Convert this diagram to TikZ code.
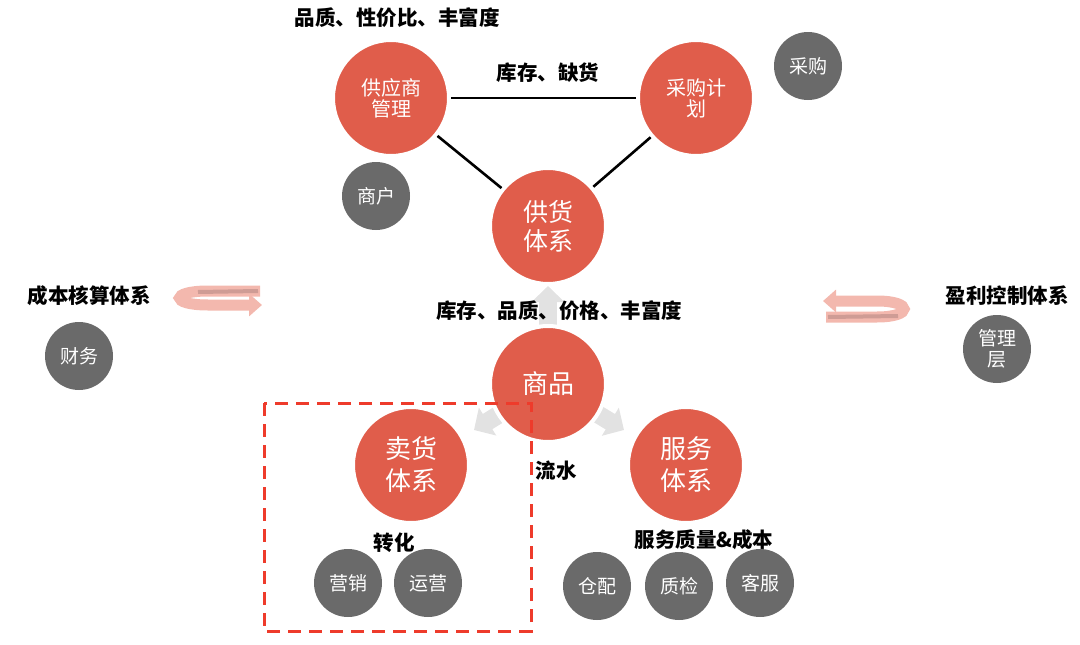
\documentclass[tikz,border=0pt]{standalone}
\usepackage{fontspec}
\newfontfamily\cjk{Noto Sans CJK SC}
\usepackage{tikz}
\usetikzlibrary{arrows.meta,backgrounds}
\definecolor{hong}{HTML}{E05D4B}
\definecolor{huise}{HTML}{6A6A6A}
\definecolor{qianhui}{HTML}{E2E2E2}
\definecolor{fenhong}{HTML}{F3B8AE}
\definecolor{shenfen}{HTML}{CF9C95}
\definecolor{kuanghong}{HTML}{EE3B2B}

\begin{document}
\begin{tikzpicture}[x=1pt,y=-1pt,
  bigc/.style={circle,fill=hong,draw=white,line width=4pt,minimum size=116pt,inner sep=0pt,text=white,align=center},
  smallc/.style={circle,fill=huise,minimum size=68pt,inner sep=0pt,text=white,align=center,font=\cjk\fontsize{19}{21}\selectfont},
  lbl/.style={font=\cjk\bfseries\fontsize{20.5}{23}\selectfont,inner sep=0pt},
  link/.style={line width=2.6pt,black},
  flow/.style={line width=18pt,draw=qianhui,-{Triangle[length=16pt,width=32pt]}},
  loopband/.style={line width=11pt,draw=fenhong},
  loopback/.style={line width=4pt,draw=shenfen}]
\useasboundingbox (0,0) rectangle (1080,645);

% supply side
\node[bigc,font=\cjk\fontsize{20}{21}\selectfont] (gys) at (391,98) {供应商\\管理};
\node[bigc,font=\cjk\fontsize{20}{21}\selectfont] (cgjh) at (696,98) {采购计\\划};
\node[bigc,font=\cjk\fontsize{25}{29}\selectfont] (ghtx) at (548,226) {供货\\体系};
\draw[link] (gys) -- (cgjh);
\draw[link] (gys) -- (ghtx);
\draw[link] (cgjh) -- (ghtx);
\node[lbl] (l1) at (397,18) {品质、性价比、丰富度};
\node[lbl] (l2) at (548,73) {库存、缺货};
\node[smallc] (cg) at (808,66) {采购};
\node[smallc] (sh) at (376,196) {商户};

% goods and the two systems below
\node[bigc,font=\cjk\fontsize{26}{28}\selectfont] (sp) at (548,384) {商品};
\node[bigc,font=\cjk\fontsize{26}{32}\selectfont] (mhtx) at (411,465) {卖货\\体系};
\node[bigc,font=\cjk\fontsize{26}{32}\selectfont] (fwtx) at (686,465) {服务\\体系};
\coordinate (upTip) at (548,286);
\coordinate (leftTip) at (474,430);
\coordinate (rightTip) at (624,430);
\begin{scope}[on background layer]
  \draw[flow] (sp.center) -- (upTip);
  \draw[flow] (sp.center) -- (leftTip);
  \draw[flow] (sp.center) -- (rightTip);
\end{scope}
\node[lbl] (l3) at (559,311) {库存、品质、价格、丰富度};
\node[lbl] (l4) at (556,471) {流水};
\node[lbl] (l5) at (394,543) {转化};
\node[lbl] (l6) at (704,540) {服务质量\&成本};
\node[smallc] (yx) at (348,583) {营销};
\node[smallc] (yy) at (428,583) {运营};
\node[smallc] (cp) at (597,586) {仓配};
\node[smallc] (zj) at (679,586) {质检};
\node[smallc] (kf) at (760,583) {客服};
\coordinate (boxA) at (264,403);
\coordinate (boxB) at (531,631);
\draw[kuanghong,line width=3pt,dash pattern=on 13pt off 8pt] (boxA) rectangle (boxB);

% left and right
\node[lbl] (l7) at (89,296) {成本核算体系};
\node[smallc] (cw) at (79,356) {财务};
\draw[loopband,-{Triangle[length=13pt,width=22pt]}] (260,291) -- (208,291) .. controls (170,291) and (170,305) .. (208,305) -- (262,305);
\draw[loopback] (258,291) -- (198,292);
\node[lbl] (l8) at (1007,296) {盈利控制体系};
\node[smallc] (glc) at (997,349) {管理\\层};
\draw[loopband,-{Triangle[length=13pt,width=22pt]}] (826,317) -- (877,317) .. controls (913,317) and (913,301) .. (877,301) -- (823,301);
\draw[loopback] (828,317) -- (898,316);
\end{tikzpicture}
\end{document}
